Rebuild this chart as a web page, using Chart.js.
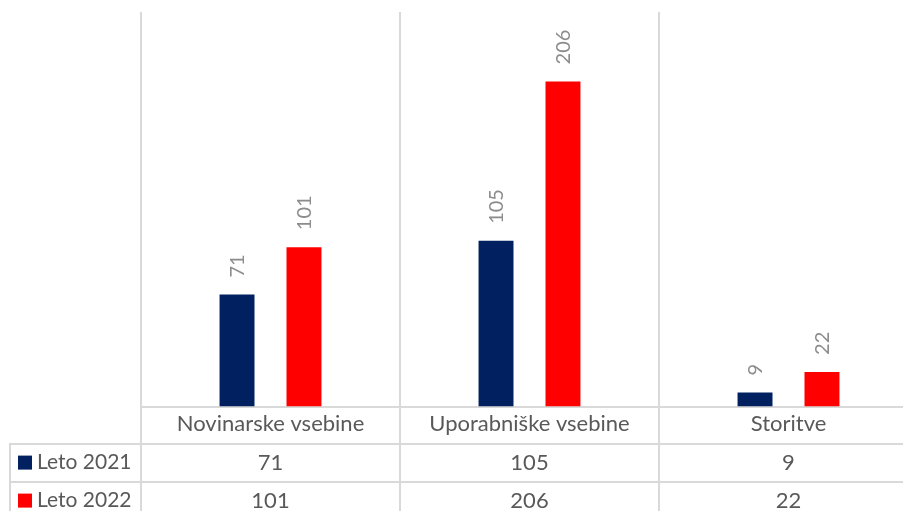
<!DOCTYPE html>
<html>
<head>
<meta charset="utf-8">
<script src="https://cdn.jsdelivr.net/npm/chart.js@4"></script>
<style>
	html, body { margin: 0; padding: 0; background: #fff; overflow: hidden; }
	#wrap { position: absolute; left: 0; top: 0; width: 925px; height: 511px; }
</style>
</head>
<body>
<div id="wrap"><canvas id="chart" width="925" height="511"></canvas></div>
<script>
// data
var categories = ['Novinarske vsebine', 'Uporabniške vsebine', 'Storitve'];
var seriesNames = ['Leto 2021', 'Leto 2022'];
var values2021 = [71, 105, 9];
var values2022 = [101, 206, 22];
var seriesColors = ['#002060', '#FF0000'];

var fontFamily = 'Lato, "Noto Sans", sans-serif';
var lineColor = '#d9d9d9';
var textColor = '#595959';

// value labels above bars, rotated like the original
var barLabels = {
	id: 'barLabels',
	afterDatasetsDraw: function(chart) {
		var ctx = chart.ctx;
		ctx.save();
		ctx.fillStyle = '#8c8c8c';
		ctx.font = '20px ' + fontFamily;
		ctx.textAlign = 'left';
		ctx.textBaseline = 'middle';
		chart.data.datasets.forEach(function(ds, di) {
			var meta = chart.getDatasetMeta(di);
			meta.data.forEach(function(bar, i) {
				ctx.save();
				ctx.translate(bar.x + 1, bar.y - 17);
				ctx.rotate(-Math.PI / 2);
				ctx.fillText(String(ds.data[i]), 0, 0);
				ctx.restore();
			});
		});
		ctx.restore();
	}
};

// data table under the axis
var dataTable = {
	id: 'dataTable',
	afterDraw: function(chart) {
		var ctx = chart.ctx;
		var xs = chart.scales.x;
		var n = categories.length;
		var step = (xs.right - xs.left) / n;
		var top = chart.chartArea.bottom + 37;
		var rowH = 38;
		var bottom = chart.height + 10;
		ctx.save();
		ctx.strokeStyle = lineColor;
		ctx.lineWidth = 2;
		ctx.beginPath();
		for (var i = 0; i <= n; i++) {
			var bx = Math.round(xs.left + i * step);
			ctx.moveTo(bx, chart.chartArea.bottom);
			ctx.lineTo(bx, bottom);
		}
		ctx.moveTo(10, top);
		ctx.lineTo(10, bottom);
		for (var r = 0; r < seriesNames.length; r++) {
			var ry = Math.round(top + r * rowH);
			ctx.moveTo(9, ry);
			ctx.lineTo(xs.right, ry);
		}
		ctx.stroke();

		ctx.textBaseline = 'middle';
		var rows = [values2021, values2022];
		rows.forEach(function(vals, r) {
			var cy = top + r * rowH + rowH / 2;
			ctx.fillStyle = seriesColors[r];
			ctx.fillRect(18, cy - 7, 14, 14);
			ctx.fillStyle = textColor;
			ctx.font = '21px ' + fontFamily;
			ctx.textAlign = 'left';
			ctx.fillText(seriesNames[r], 37, cy);
			ctx.font = '22px ' + fontFamily;
			ctx.textAlign = 'center';
			vals.forEach(function(v, i) {
				ctx.fillText(String(v), xs.getPixelForValue(i), cy);
			});
		});
		ctx.restore();
	}
};

var chart = new Chart(document.getElementById('chart'), {
	type: 'bar',
	data: {
		labels: categories,
		datasets: [
			{ label: seriesNames[0], data: values2021, backgroundColor: seriesColors[0] },
			{ label: seriesNames[1], data: values2022, backgroundColor: seriesColors[1] }
		]
	},
	options: {
		responsive: false,
		animation: false,
		events: [],
		categoryPercentage: 0.517,
		barPercentage: 0.522,
		layout: { padding: { left: 141, top: 12, right: 7, bottom: 70 } },
		plugins: {
			legend: { display: false },
			tooltip: { enabled: false }
		},
		scales: {
			x: {
				grid: { display: true, offset: true, color: lineColor, lineWidth: 2, drawTicks: false },
				border: { display: true, color: lineColor, width: 2 },
				ticks: { color: textColor, font: { family: fontFamily, size: 22 }, padding: 4, maxRotation: 0 }
			},
			y: {
				display: false,
				min: 0,
				max: 250
			}
		}
	},
	plugins: [barLabels, dataTable]
});
</script>
</body>
</html>
